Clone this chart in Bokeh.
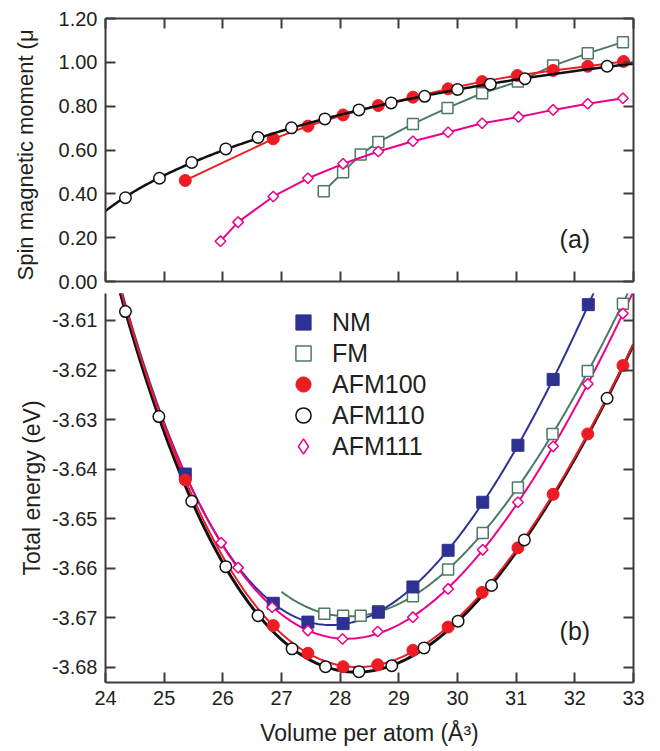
import numpy as np
from bokeh.plotting import figure
from bokeh.layouts import column, row
from bokeh.models import (Range1d, FixedTicker, PrintfTickFormatter, LinearAxis,
                          Label, Legend, LegendItem)
from bokeh.embed import file_html
from bokeh.resources import INLINE

# ---------------- data: panel (a) spin magnetic moment ----------------
V_FM_A = [27.72, 28.05, 28.35, 28.65, 29.24, 29.83, 30.42, 31.03, 31.63, 32.22, 32.82]
M_FM = [0.412, 0.499, 0.579, 0.636, 0.719, 0.792, 0.859, 0.912, 0.985, 1.041, 1.092]

V_AFM100_A = [25.36, 26.86, 27.45, 28.05, 28.65, 29.24, 29.84, 30.42, 31.02, 31.63, 32.22, 32.83]
M_AFM100 = [0.461, 0.651, 0.709, 0.760, 0.803, 0.841, 0.879, 0.912, 0.940, 0.963, 0.982, 1.004]

V_AFM110_A = [24.34, 24.92, 25.47, 26.05, 26.60, 27.17, 27.74, 28.32, 28.87, 29.44, 30.00, 30.56, 31.15, 32.55]
M_AFM110 = [0.382, 0.471, 0.543, 0.605, 0.657, 0.701, 0.742, 0.783, 0.815, 0.845, 0.876, 0.900, 0.925, 0.982]

V_AFM111_A = [25.96, 26.26, 26.86, 27.45, 28.05, 28.65, 29.24, 29.84, 30.42, 31.04, 31.63, 32.22, 32.82]
M_AFM111 = [0.184, 0.271, 0.388, 0.471, 0.537, 0.593, 0.640, 0.681, 0.722, 0.751, 0.783, 0.811, 0.836]

# ---------------- data: panel (b) total energy ----------------
V_NM = [25.36, 26.86, 27.45, 28.05, 28.65, 29.24, 29.84, 30.43, 31.03, 31.63, 32.23]
E_NM = [-3.6410, -3.6671, -3.6709, -3.6712, -3.6689, -3.6638, -3.6564, -3.6467, -3.6352, -3.6219, -3.6068]

V_FM = [27.73, 28.05, 28.35, 28.65, 29.24, 29.84, 30.43, 31.03, 31.62, 32.22, 32.82]
E_FM = [-3.6692, -3.6696, -3.6696, -3.6687, -3.6657, -3.6603, -3.6529, -3.6437, -3.6329, -3.6202, -3.6066]

V_AFM100 = [25.36, 26.86, 27.45, 28.05, 28.64, 29.24, 29.84, 30.42, 31.03, 31.63, 32.22, 32.82]
E_AFM100 = [-3.6422, -3.6716, -3.6772, -3.6799, -3.6795, -3.6766, -3.6719, -3.6649, -3.6559, -3.6451, -3.6329, -3.6191]

V_AFM110 = [24.34, 24.91, 25.47, 26.05, 26.60, 27.18, 27.75, 28.32, 28.88, 29.43, 30.01, 30.58, 31.14, 32.55]
E_AFM110 = [-3.6082, -3.6294, -3.6465, -3.6597, -3.6696, -3.6763, -3.6799, -3.6809, -3.6797, -3.6761, -3.6707, -3.6635, -3.6543, -3.6257]

V_AFM111 = [25.97, 26.26, 26.84, 27.45, 28.04, 28.64, 29.24, 29.84, 30.43, 31.03, 31.63, 32.22, 32.82]
E_AFM111 = [-3.6549, -3.6599, -3.6679, -3.6726, -3.6743, -3.6728, -3.6699, -3.6642, -3.6563, -3.6467, -3.6354, -3.6228, -3.6086]

SERIES_NAMES = ["NM", "FM", "AFM100", "AFM110", "AFM111"]

X_TICKS = [24, 25, 26, 27, 28, 29, 30, 31, 32, 33]
Y_TICKS_A = [0.0, 0.2, 0.4, 0.6, 0.8, 1.0, 1.2]
Y_TICKS_B = [-3.68, -3.67, -3.66, -3.65, -3.64, -3.63, -3.62, -3.61]

X_RANGE = (24, 33)
Y_RANGE_A = (0.0, 1.2)
Y_RANGE_B = (-3.68309, -3.60455)
FM_FIT_START = 27.0

# ---------------- style ----------------
FONT = "Liberation Sans"
TXT = "#231f20"
AXC = "#3d3d3d"
C_NM = "#2e3192"
C_FM = "#4d7a64"
C_AFM100 = "#ed1c24"
C_AFM110 = "#111111"
C_AFM111 = "#ec008c"


def style_axis(ax, ticks, labels=True, fmt="%.2f"):
    ax.ticker = FixedTicker(ticks=ticks)
    ax.axis_line_color = AXC
    ax.axis_line_width = 2
    ax.major_tick_line_color = AXC
    ax.major_tick_line_width = 2
    ax.major_tick_in = 10
    ax.major_tick_out = 0
    ax.minor_tick_line_color = None
    ax.major_label_text_font = FONT
    ax.major_label_text_color = TXT
    if labels:
        ax.formatter = PrintfTickFormatter(format=fmt)
        ax.major_label_text_font_size = "20px"
        ax.major_label_standoff = 8
    else:
        ax.formatter = PrintfTickFormatter(format="")
        ax.major_label_text_font_size = "1px"
        ax.major_label_standoff = 0


def bm_fit(V, E, vmin, vmax, n=300):
    x = np.asarray(V) ** (-2.0 / 3.0)
    c = np.polyfit(x, np.asarray(E), 3)
    vv = np.linspace(vmin, vmax, n)
    return vv, np.polyval(c, vv ** (-2.0 / 3.0))


# ================= y-label strip for panel (a) =================
LABEL_W = 48
TOP_H = 293
pl = figure(width=LABEL_W, height=TOP_H, output_backend="svg", toolbar_location=None,
            x_range=Range1d(0, 1), y_range=Range1d(0, 1),
            min_border_left=0, min_border_right=0, min_border_top=0, min_border_bottom=0,
            x_axis_location=None, y_axis_location=None)
pl.outline_line_color = None
pl.grid.visible = False
pl.background_fill_color = None
# rotated pieces, each starting at its lower end and reading upward
lab_kw = dict(x_units="screen", y_units="screen", angle=90, angle_units="deg",
              text_align="left", text_baseline="middle", text_font=FONT, text_color=TXT)
pl.add_layout(Label(x=25, y=1, text="Spin magnetic moment (μ", text_font_size="22px", **lab_kw))
pl.add_layout(Label(x=32, y=263, text="B", text_font_size="15px", **lab_kw))
pl.add_layout(Label(x=25, y=273.5, text=")", text_font_size="22px", **lab_kw))

# ================= panel (a) =================
pa = figure(width=660 - LABEL_W, height=TOP_H, output_backend="svg", toolbar_location=None,
            x_range=Range1d(*X_RANGE), y_range=Range1d(*Y_RANGE_A),
            min_border_left=105 - LABEL_W, min_border_right=27, min_border_top=18,
            min_border_bottom=12)
pa.outline_line_color = None
pa.grid.visible = False
pa.background_fill_color = None
style_axis(pa.xaxis[0], X_TICKS, labels=False)
style_axis(pa.yaxis[0], Y_TICKS_A, labels=True)
ax_top = LinearAxis()
style_axis(ax_top, X_TICKS, labels=False)
pa.add_layout(ax_top, "above")
ax_right = LinearAxis()
style_axis(ax_right, Y_TICKS_A, labels=False)
pa.add_layout(ax_right, "right")

# FM
pa.line(V_FM_A, M_FM, line_color=C_FM, line_width=2)
pa.scatter(V_FM_A, M_FM, marker="square", size=11, fill_color="white",
           line_color=C_FM, line_width=1.5)
# AFM111
pa.line(V_AFM111_A, M_AFM111, line_color=C_AFM111, line_width=2)
pa.scatter(V_AFM111_A, M_AFM111, marker="square", angle=np.pi / 4, size=7.5,
           fill_color="white", line_color=C_AFM111, line_width=1.5)
# AFM100
pa.line(V_AFM100_A, M_AFM100, line_color=C_AFM100, line_width=2)
pa.scatter(V_AFM100_A, M_AFM100, marker="circle", size=12, fill_color=C_AFM100,
           line_color=C_AFM100)
# AFM110 smooth curve (quadratic fit of m^2)
c110 = np.polyfit(np.asarray(V_AFM110_A), np.asarray(M_AFM110) ** 2, 2)
vv = np.linspace(X_RANGE[0], X_RANGE[1], 300)
pa.line(vv, np.sqrt(np.clip(np.polyval(c110, vv), 0, None)), line_color=C_AFM110, line_width=2.5)
pa.scatter(V_AFM110_A, M_AFM110, marker="circle", size=11.5, fill_color="white",
           line_color=C_AFM110, line_width=1.5)

pa.add_layout(Label(x=32.0, y=0.196, text="(a)", text_align="center", text_baseline="middle",
                    text_font=FONT, text_font_size="25px", text_color=TXT))

# ================= panel (b) =================
pb = figure(width=660, height=458, output_backend="svg", toolbar_location=None,
            x_range=Range1d(*X_RANGE), y_range=Range1d(*Y_RANGE_B),
            min_border_left=105, min_border_right=27, min_border_top=0, min_border_bottom=69)
pb.outline_line_color = None
pb.grid.visible = False
pb.background_fill_color = None
style_axis(pb.xaxis[0], X_TICKS, labels=True, fmt="%d")
style_axis(pb.yaxis[0], Y_TICKS_B, labels=True)
ax_rb = LinearAxis()
style_axis(ax_rb, Y_TICKS_B, labels=False)
pb.add_layout(ax_rb, "right")
pb.xaxis[0].axis_label = "Volume per atom (Å³)"
pb.yaxis[0].axis_label = "Total energy (eV)"
for ax in (pb.xaxis[0], pb.yaxis[0]):
    ax.axis_label_text_font = FONT
    ax.axis_label_text_font_size = "23px"
    ax.axis_label_text_font_style = "normal"
    ax.axis_label_text_color = TXT
pb.xaxis[0].axis_label_standoff = 12
pb.yaxis[0].axis_label_standoff = 4

# curves
v, e = bm_fit(V_FM, E_FM, FM_FIT_START, X_RANGE[1])
pb.line(v, e, line_color=C_FM, line_width=2)
v, e = bm_fit(V_NM, E_NM, X_RANGE[0], X_RANGE[1])
pb.line(v, e, line_color=C_NM, line_width=2)
v, e = bm_fit(V_AFM111, E_AFM111, X_RANGE[0], X_RANGE[1])
pb.line(v, e, line_color=C_AFM111, line_width=2)
v, e = bm_fit(V_AFM110, E_AFM110, X_RANGE[0], X_RANGE[1])
pb.line(v, e, line_color=C_AFM110, line_width=3)
v, e = bm_fit(V_AFM100, E_AFM100, X_RANGE[0], X_RANGE[1])
pb.line(v, e, line_color=C_AFM100, line_width=2)

r_fm = pb.scatter(V_FM, E_FM, marker="square", size=11, fill_color="white",
                  line_color=C_FM, line_width=1.5)
r_nm = pb.scatter(V_NM, E_NM, marker="square", size=12, fill_color=C_NM, line_color=C_NM)
pb.scatter(V_AFM111, E_AFM111, marker="square", angle=np.pi / 4, size=7.5,
           fill_color="white", line_color=C_AFM111, line_width=1.5)
r_100 = pb.scatter(V_AFM100, E_AFM100, marker="circle", size=12, fill_color=C_AFM100,
                   line_color=C_AFM100)
r_110 = pb.scatter(V_AFM110, E_AFM110, marker="circle", size=11.5, fill_color="white",
                   line_color=C_AFM110, line_width=1.5)
# hidden twin of the AFM111 markers, used only for its (unrotated) diamond legend glyph
r_111_leg = pb.scatter(V_AFM111, E_AFM111, marker="diamond", fill_color="white",
                       line_color=C_AFM111, line_width=1.5, visible=False)

# one single-item legend per entry, stacked 31 px apart
for i, (name, rend) in enumerate(zip(SERIES_NAMES, [r_nm, r_fm, r_100, r_110, r_111_leg])):
    leg = Legend(items=[LegendItem(label=name, renderers=[rend])],
                 location=(179, 341 - 31 * i), glyph_width=38, glyph_height=38,
                 padding=0, margin=0, label_standoff=10,
                 label_text_font=FONT, label_text_font_size="25px", label_text_color=TXT,
                 label_text_baseline="middle", inactive_fill_alpha=0,
                 border_line_color=None, background_fill_alpha=0)
    pb.add_layout(leg)

pb.add_layout(Label(x=32.0, y=-3.6726, text="(b)", text_align="center", text_baseline="middle",
                    text_font=FONT, text_font_size="25px", text_color=TXT))

layout = column(row(pl, pa, spacing=0), pb, spacing=0)
open("out.html", "w").write(file_html(layout, INLINE))
